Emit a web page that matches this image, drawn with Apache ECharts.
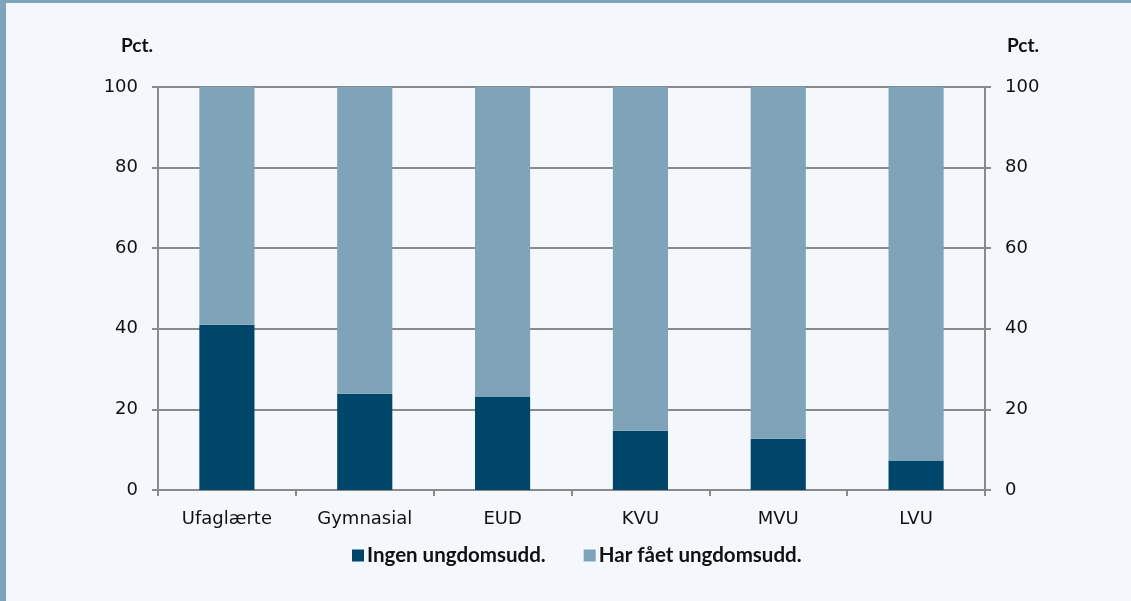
<!DOCTYPE html>
<html>
<head>
<meta charset="utf-8">
<script src="https://cdn.jsdelivr.net/npm/echarts@6/dist/echarts.min.js"></script>
<style>
  html, body { margin: 0; padding: 0; background: #f4f8fc; }
  #container { width: 1131px; height: 601px; box-sizing: border-box;
    border-top: 3px solid #7fa3b9; border-left: 6px solid #7fa3b9; }
</style>
</head>
<body>
<div id="container"></div>
<script type="text/javascript">
var categories = ['Ufaglærte', 'Gymnasial', 'EUD', 'KVU', 'MVU', 'LVU'];
var ingen = [41.0, 23.9, 23.1, 14.7, 12.7, 7.3];
var harFaaet = [59.0, 76.1, 76.9, 85.3, 87.3, 92.7];
var seriesNames = ['Ingen ungdomsudd.', 'Har fået ungdomsudd.'];
var yTicks = [0, 20, 40, 60, 80, 100];

var dom = document.getElementById('container');
var myChart = echarts.init(dom);

var axisGray = '#8a8a8a';
var labelFont = 'DejaVu Sans';

// shared y axis style, right one mirrors the left
function makeYAxis(pos) {
    return {
        type: 'value',
        position: pos,
        min: yTicks[0],
        max: yTicks[yTicks.length - 1],
        interval: 20,
        name: 'Pct.',
        nameLocation: 'end',
        nameGap: 32,
        nameTextStyle: {
            fontFamily: 'Lato',
            fontWeight: 'bold',
            fontSize: 19,
            color: '#111',
            align: pos === 'left' ? 'right' : 'left',
            padding: pos === 'left' ? [0, 5, 0, 0] : [0, 0, 0, 22]
        },
        axisLine: { show: true, lineStyle: { color: axisGray, width: 2 } },
        axisTick: { show: true, length: 6, lineStyle: { color: axisGray, width: 2 } },
        axisLabel: { fontFamily: labelFont, fontSize: 18, color: '#111', margin: 20 },
        splitLine: { show: pos === 'left', lineStyle: { color: axisGray, width: 2 } }
    };
}

var option = {
    backgroundColor: '#f4f8fc',
    animation: false,
    grid: { left: 152, right: 146, top: 84, bottom: 111 },
    legend: {
        bottom: 30,
        left: 341,
        itemWidth: 12,
        itemHeight: 12,
        itemGap: 38,
        icon: 'rect',
        textStyle: { fontFamily: 'Lato', fontWeight: 'bold', fontSize: 20.5, color: '#111', padding: [0, 0, 0, -2] },
        data: seriesNames
    },
    xAxis: {
        type: 'category',
        data: categories,
        axisLine: { lineStyle: { color: axisGray, width: 2 } },
        axisTick: { show: true, length: 6, alignWithLabel: false, lineStyle: { color: axisGray, width: 2 } },
        axisLabel: { fontFamily: labelFont, fontSize: 18, color: '#111', margin: 20 }
    },
    yAxis: [makeYAxis('left'), makeYAxis('right')],
    series: [
        {
            name: seriesNames[0],
            type: 'bar',
            stack: 'total',
            barWidth: '40%',
            itemStyle: { color: '#00466b' },
            data: ingen
        },
        {
            name: seriesNames[1],
            type: 'bar',
            stack: 'total',
            barWidth: '40%',
            itemStyle: { color: '#7fa3b9' },
            data: harFaaet
        }
    ]
};
myChart.setOption(option);
</script>
</body>
</html>
